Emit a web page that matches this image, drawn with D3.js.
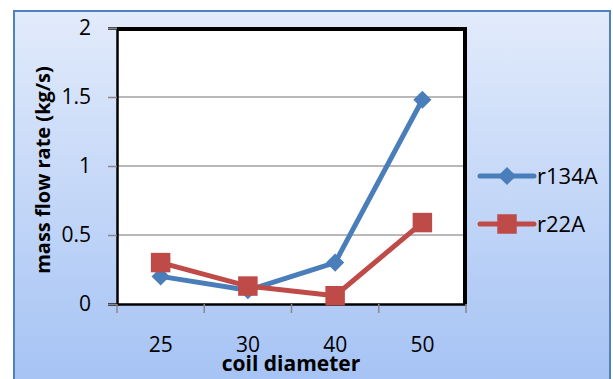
<!DOCTYPE html>
<html>
<head>
<meta charset="utf-8">
<script src="https://cdn.jsdelivr.net/npm/d3@7"></script>
<style>
  body { margin: 0; background: #fff; }
  text { font-family: "Open Sans", Lato, sans-serif; }
</style>
</head>
<body>
<div id="chart"></div>
<script>
/* coil diameter vs mass flow rate */

const width = 613,
    height = 379,
    margin = ({ top: 28, right: 147, bottom: 75, left: 117 });

const categories = ["25", "30", "40", "50"];
const r134A = [0.2, 0.1, 0.3, 1.48];
const r22A = [0.3, 0.13, 0.06, 0.59];
const yTicks = [0, 0.5, 1, 1.5, 2];

const series = [
  { name: "r134A", values: r134A, color: "#4a7ebb", marker: "diamond" },
  { name: "r22A", values: r22A, color: "#be4b48", marker: "square" }
];

const svg = d3.select("#chart")
    .append("svg")
    .attr("width", width)
    .attr("height", height);

// chart area background
const grad = svg.append("defs").append("linearGradient")
    .attr("id", "bg")
    .attr("x1", 0).attr("y1", 0).attr("x2", 0).attr("y2", 1);
grad.append("stop").attr("offset", "0%").attr("stop-color", "#e2ebfb");
grad.append("stop").attr("offset", "100%").attr("stop-color", "#a4c2f4");

svg.append("rect")
    .attr("x", 14).attr("y", 11)
    .attr("width", 596).attr("height", 380)
    .attr("fill", "url(#bg)")
    .attr("stroke", "#4f81bd")
    .attr("stroke-width", 2);

let x = d3.scaleBand()
    .domain(categories)
    .range([margin.left, width - margin.right]);

let y = d3.scaleLinear()
    .domain([0, 2])
    .range([height - margin.bottom, margin.top]);

// plot area
svg.append("rect")
    .attr("x", margin.left).attr("y", margin.top)
    .attr("width", width - margin.left - margin.right)
    .attr("height", height - margin.top - margin.bottom)
    .attr("fill", "#fff");

// gridlines
svg.append("g")
    .selectAll("line")
    .data(yTicks.filter(d => d > 0 && d < 2))
    .join("line")
      .attr("x1", margin.left).attr("x2", width - margin.right)
      .attr("y1", d => y(d)).attr("y2", d => y(d))
      .attr("stroke", "#a0a0a0")
      .attr("stroke-width", 1.5);

// thick top / right border
svg.append("path")
    .attr("d", `M${margin.left},${margin.top + 1}H${width - margin.right - 1}V${height - margin.bottom}`)
    .attr("fill", "none")
    .attr("stroke", "#000")
    .attr("stroke-width", 4);

// y axis
const yAxis = svg.append("g")
    .attr("transform", `translate(${margin.left},0)`)
    .call(d3.axisLeft(y).tickValues(yTicks).tickSize(9).tickPadding(17).tickFormat(d3.format("")));
yAxis.select(".domain").attr("stroke", "#000").attr("stroke-width", 2.5);
yAxis.selectAll(".tick line").attr("stroke", "#888").attr("stroke-width", 1.5);
yAxis.selectAll("text").attr("font-size", 21).attr("fill", "#000");

// x axis
const xAxis = svg.append("g")
    .attr("transform", `translate(0,${height - margin.bottom})`)
    .call(d3.axisBottom(x).tickSize(0).tickPadding(33));
xAxis.select(".domain").attr("stroke", "#000").attr("stroke-width", 2.5);
xAxis.selectAll("text").attr("font-size", 21).attr("fill", "#000");

// x ticks between categories
svg.append("g")
    .selectAll("line")
    .data(categories.map(d => x(d)).concat([x(categories[categories.length - 1]) + x.bandwidth()]))
    .join("line")
      .attr("x1", d => d).attr("x2", d => d)
      .attr("y1", height - margin.bottom).attr("y2", height - margin.bottom + 9)
      .attr("stroke", "#888")
      .attr("stroke-width", 1.5);

// axis titles
svg.append("text")
    .attr("x", 291)
    .attr("y", 371)
    .attr("text-anchor", "middle")
    .attr("font-size", 21)
    .attr("font-weight", "bold")
    .text("coil diameter");

svg.append("text")
    .attr("transform", "translate(50,170) rotate(-90)")
    .attr("text-anchor", "middle")
    .attr("font-size", 20)
    .attr("font-weight", "bold")
    .text("mass flow rate (kg/s)");

const cx = d => x(d) + x.bandwidth() / 2;
const diamond = d3.symbol(d3.symbolDiamond2, 210);
const square = d3.symbol(d3.symbolSquare, 380);

for (let s of series) {
  let line = d3.line()
      .x((d, i) => cx(categories[i]))
      .y(d => y(d));

  svg.append("path")
      .datum(s.values)
      .attr("d", line)
      .attr("fill", "none")
      .attr("stroke", s.color)
      .attr("stroke-width", 5)
      .attr("stroke-linejoin", "round");

  svg.selectAll(".m-" + s.name)
      .data(s.values)
      .join("path")
        .attr("transform", (d, i) => `translate(${cx(categories[i])},${y(d)})`)
        .attr("d", s.marker === "diamond" ? diamond : square)
        .attr("fill", s.color);
}

// legend
const legend = svg.append("g")
    .selectAll("g")
    .data(series)
    .join("g")
      .attr("transform", (d, i) => `translate(480,${176 + i * 48})`);

legend.append("line")
    .attr("x1", 0).attr("x2", 54)
    .attr("stroke", d => d.color)
    .attr("stroke-width", 5)
    .attr("stroke-linecap", "round");

legend.append("path")
    .attr("transform", "translate(27,0)")
    .attr("d", d => d.marker === "diamond" ? diamond() : square())
    .attr("fill", d => d.color);

legend.append("text")
    .attr("x", 57)
    .attr("dy", "0.35em")
    .attr("font-size", 22)
    .text(d => d.name);
</script>
</body>
</html>
